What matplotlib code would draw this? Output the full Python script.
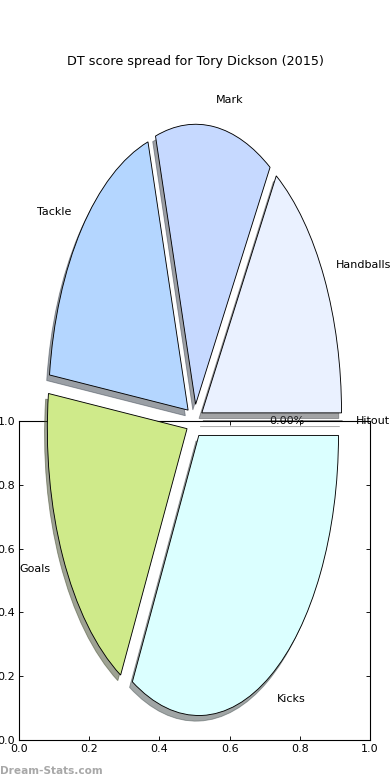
import matplotlib
matplotlib.use('Agg')
import matplotlib.pyplot as plt
from matplotlib.transforms import Affine2D

# Data
labels = ['Handballs', 'Mark', 'Tackle', 'Goals', 'Kicks', 'Hitout']
shares = [16.06, 13.58, 18.36, 19.12, 32.89, 0.00]
colors = ['#eaf1ff', '#c6d9ff', '#b4d6ff', '#cfea8a', '#dbffff', '#e0e0e0']
explode = [0.06] * len(labels)
title = 'DT score spread for Tory Dickson (2015)'


def main():
    plt.rcParams['font.family'] = 'DejaVu Sans'
    fig = plt.figure(figsize=(4.875, 9.75), dpi=80)
    ax = fig.add_axes([19 / 390, 40 / 780, 351 / 390, 319 / 780])

    # pie is squashed into an ellipse centred on the top spine
    pie_tf = Affine2D().scale(0.398, 0.878).translate(0.5, 1.0) + ax.transAxes
    # shadow offset is scaled by dpi/72 in pie units
    off = -0.02 * 72 / 80
    ax.pie(shares, labels=labels, colors=colors, explode=explode,
           autopct='%1.2f%%', startangle=0, labeldistance=1.095,
           shadow={'ox': off, 'oy': off, 'transform': pie_tf, 'clip_on': False},
           wedgeprops={'edgecolor': 'black', 'linewidth': 0.8,
                       'transform': pie_tf, 'clip_on': False, 'zorder': 3},
           textprops={'transform': pie_tf, 'fontsize': 10, 'zorder': 2})
    ax.set_xlim(0, 1)
    ax.set_ylim(0, 1)
    ax.set_aspect('auto')
    ax.set_frame_on(True)
    ax.set_xticks([0, 0.2, 0.4, 0.6, 0.8, 1.0])
    ax.set_yticks([0, 0.2, 0.4, 0.6, 0.8, 1.0])
    ax.set_xticklabels(['0.0', '0.2', '0.4', '0.6', '0.8', '1.0'])
    ax.set_yticklabels(['0.0', '0.2', '0.4', '0.6', '0.8', '1.0'])
    ax.tick_params(direction='in', top=True, right=True, labelsize=10, length=4)
    for s in ax.spines.values():
        s.set_linewidth(1.0)

    fig.text(0.5, 1 - 61 / 780, title, ha='center', va='center', fontsize=11.5)
    fig.text(0.0, 1 - 771 / 780, 'Dream-Stats.com', ha='left', va='center',
             fontsize=9.5, fontweight='bold', color='#a8a8a8')

    fig.savefig('out.png', dpi=80)


if __name__ == "__main__":
    main()
